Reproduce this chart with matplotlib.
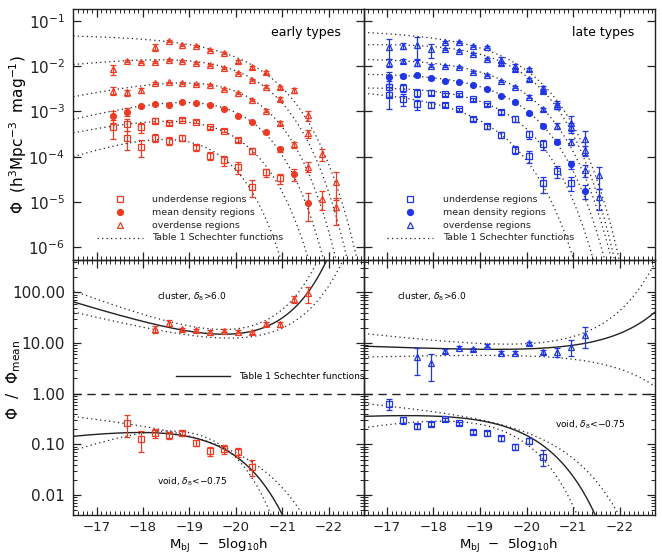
import numpy as np
import matplotlib
matplotlib.use('Agg')
from matplotlib import pyplot as plt
from matplotlib import ticker

# magnitude bins (M_bJ - 5log10 h)
mag_bins = [-17.05, -17.35, -17.65, -17.95, -18.25, -18.55, -18.85, -19.15, -19.45,
            -19.75, -20.05, -20.35, -20.65, -20.95, -21.25, -21.55, -21.85, -22.15]

nan = np.nan

# early types: log10 Phi and fractional errors
early_A = [-1.588, -1.456, -1.537, -1.566, -1.654, -1.721, -1.897, -2.029, -2.140, -2.471, -2.529, -3.081, -3.949, -4.551]
early_A_err = [0.17, 0.05, 0.05, 0.05, 0.05, 0.05, 0.06, 0.07, 0.08, 0.10, 0.12, 0.25, 0.3, 0.6]
early_B = [-2.066, -1.890, -1.919, -1.904, -1.860, -1.882, -1.934, -1.971, -2.051, -2.162, -2.309, -2.456, -2.728, nan, -3.485, nan, -5.118]
early_B_err = [0.25, 0.06, 0.05, 0.05, 0.04, 0.04, 0.04, 0.04, 0.05, 0.05, 0.06, 0.07, 0.10, nan, 0.2, nan, 0.6]
early_C = [-2.544, -2.581, -2.529, -2.375, -2.360, -2.375, -2.404, -2.419, -2.507, -2.603, -2.750, -2.985, -3.250, -3.728, -4.221, -4.926]
early_C_err = [0.2, 0.15, 0.12, 0.05, 0.04, 0.04, 0.04, 0.04, 0.05, 0.05, 0.06, 0.08, 0.1, 0.15, 0.25, 0.45]
early_D = [-3.096, -3.007, -2.890, -2.838, -2.860, -2.801, -2.824, -2.860, -2.949, -3.096, -3.228, -3.463, -3.838, -4.390, -5.015]
early_D_err = [0.3, 0.2, 0.08, 0.05, 0.04, 0.04, 0.04, 0.04, 0.05, 0.05, 0.06, 0.08, 0.12, 0.3, 0.6]
early_E = [-3.353, -3.279, -3.353, -3.206, -3.265, -3.184, -3.228, -3.353, -3.426, -3.632, -3.868, -4.346, -4.478]
early_E_err = [0.45, 0.3, 0.25, 0.12, 0.1, 0.08, 0.07, 0.08, 0.08, 0.1, 0.15, 0.2, 0.25]
early_F = [-3.596, -3.779, -3.581, -3.654, -3.581, -3.794, -3.985, -4.074, -4.235, -4.662]
early_F_err = [0.45, 0.4, 0.2, 0.2, 0.15, 0.15, 0.2, 0.25, 0.3, 0.4]

# late types
late_A = [-1.478, -1.463, -1.551, -1.588, -1.868, -2.000, -2.066, -2.493, -2.846, -3.250, -3.618, -4.404]
late_A_err = [0.05, 0.05, 0.05, 0.05, 0.15, 0.12, 0.08, 0.15, 0.2, 0.4, 0.55, 0.5]
late_B = [-1.574, -1.559, -1.537, -1.632, -1.625, -1.662, -1.743, -1.846, -1.941, -2.074, -2.294, -2.544, -2.882, -3.338, -3.853, -4.882]
late_B_err = [0.45, 0.15, 0.5, 0.35, 0.06, 0.05, 0.05, 0.05, 0.06, 0.08, 0.08, 0.12, 0.15, 0.2, 0.25, 0.5]
late_C = [-1.926, -1.890, -1.926, -1.993, -1.993, -2.015, -2.125, -2.199, -2.324, -2.456, -2.676, -2.956, -3.324, -3.669, -4.294]
late_C_err = [0.2, 0.1, 0.15, 0.08, 0.05, 0.05, 0.05, 0.05, 0.06, 0.06, 0.08, 0.1, 0.15, 0.15, 0.3]
late_D = [-2.235, -2.213, -2.199, -2.272, -2.331, -2.360, -2.419, -2.515, -2.654, -2.801, -3.044, -3.324, -3.669, -4.169, -4.750]
late_D_err = [0.3, 0.1, 0.08, 0.06, 0.05, 0.05, 0.05, 0.05, 0.06, 0.07, 0.08, 0.1, 0.12, 0.2, 0.35]
late_E = [-2.471, -2.478, -2.588, -2.588, -2.625, -2.625, -2.728, -2.846, -3.007, -3.169, -3.507, -3.721, -4.309, -4.574]
late_E_err = [0.4, 0.2, 0.2, 0.12, 0.1, 0.08, 0.08, 0.08, 0.1, 0.15, 0.2, 0.25, 0.3, 0.35]
late_F = [-2.640, -2.728, -2.846, -2.860, -2.860, -2.956, -3.169, -3.324, -3.522, -3.853, -3.985, -4.588]
late_F_err = [0.5, 0.3, 0.25, 0.15, 0.1, 0.1, 0.1, 0.12, 0.15, 0.2, 0.3, 0.4]

# Phi / Phi_mean (log10)
early_cluster = [1.276, 1.401, 1.270, 1.257, 1.224, 1.243, 1.224, 1.211, 1.375, 1.368, 1.868, 1.980]
early_cluster_err = [0.15, 0.12, 0.08, 0.07, 0.07, 0.07, 0.07, 0.08, 0.1, 0.12, 0.15, 0.35]
early_void = [-0.586, -0.895, -0.770, -0.816, -0.783, -0.967, -1.132, -1.099, -1.145, -1.441]
early_void_err = [0.45, 0.45, 0.2, 0.15, 0.12, 0.15, 0.2, 0.2, 0.2, 0.35]
late_cluster = [0.717, 0.599, 0.849, 0.908, 0.875, 0.947, 0.809, 0.809, 0.993, 0.829, 0.829, 0.928, 1.158]
late_cluster_err = [0.55, 0.55, 0.1, 0.06, 0.06, 0.06, 0.07, 0.07, 0.08, 0.1, 0.2, 0.35, 0.45]
late_void = [-0.204, -0.520, -0.638, -0.599, -0.507, -0.586, -0.750, -0.783, -0.882, -1.046, -0.928, -1.243]
late_void_err = [0.25, 0.15, 0.12, 0.1, 0.08, 0.08, 0.08, 0.1, 0.12, 0.15, 0.15, 0.35]

# Schechter parameters (phi*, M*, alpha)
early_sch = [(0.04693, -19.985, -1.032), (0.02814, -19.751, -0.725), (0.01102, -19.537, -0.459),
             (0.004325, -19.338, -0.345), (0.001594, -19.159, -0.434), (0.000703, -18.573, -0.099)]
late_sch = [(0.05482, -19.359, -1.063), (0.04536, -19.236, -0.894), (0.01744, -19.287, -0.977),
            (0.008813, -19.207, -0.948), (0.004832, -19.023, -0.911), (0.002495, -18.736, -1.105)]
early_mean_sch = early_sch[3]
late_mean_sch = late_sch[3]
# cluster / void: best fit, upper, lower
early_cluster_sch = [(0.03913, -20.088, -1.068), (0.03791, -20.343, -1.211), (0.04209, -19.802, -0.903)]
early_void_sch = [(0.0007305, -18.560, -0.055), (0.0007083, -18.907, -0.592), (0.0007506, -18.250, 0.502)]
late_cluster_sch = [(0.06113, -19.295, -1.034), (0.06844, -19.420, -1.202), (0.05328, -19.141, -0.894)]
late_void_sch = [(0.00412, -18.677, -0.827), (0.003507, -18.915, -1.169), (0.003983, -18.450, -0.556)]

RED = '#ee3b24'
BLUE = '#2036e6'
INK = '#222222'


def schechter(M, p):
    phis, Ms, a = p
    x = 10 ** (0.4 * (Ms - M))
    return 0.4 * np.log(10) * phis * x ** (a + 1) * np.exp(-x)


def draw_points(ax, start, logv, err, marker, color, filled):
    M = np.array(mag_bins[start:start + len(logv)])
    v = 10 ** np.array(logv)
    e = v * np.array(err)
    lo = np.minimum(e, v * 0.7)
    ax.errorbar(M, v, yerr=[lo, e], fmt='none', ecolor=color, elinewidth=0.9,
                capsize=2, capthick=0.9)
    ax.plot(M, v, linestyle='none', marker=marker, ms=5 if marker != 'o' else 4.2,
            mec=color, mfc=color if filled else 'none', mew=0.9)


fig = plt.figure(figsize=(6.62, 5.56), dpi=100)
W, H = 662, 556
x0, xm, x1 = 73.3, 363.6, 654.5
ytop, ymid, ybot = 9, 260, 515

ax_el = fig.add_axes([x0 / W, 1 - ymid / H, (xm - x0) / W, (ymid - ytop) / H])
ax_ll = fig.add_axes([xm / W, 1 - ymid / H, (x1 - xm) / W, (ymid - ytop) / H])
ax_er = fig.add_axes([x0 / W, 1 - ybot / H, (xm - x0) / W, (ybot - ymid) / H])
ax_lr = fig.add_axes([xm / W, 1 - ybot / H, (x1 - xm) / W, (ybot - ymid) / H])
for ax in (ax_el, ax_ll, ax_er, ax_lr):
    ax.patch.set_alpha(0)

Mgrid = np.linspace(-16.5, -22.75, 500)
dot = (0, (1, 2.6))

rows_early = [(4, early_A, early_A_err, '^', False), (1, early_B, early_B_err, '^', False),
              (1, early_C, early_C_err, '^', False), (1, early_D, early_D_err, 'o', True),
              (1, early_E, early_E_err, 's', False), (2, early_F, early_F_err, 's', False)]
rows_late = [(4, late_A, late_A_err, '^', False), (0, late_B, late_B_err, '^', False),
             (0, late_C, late_C_err, '^', False), (0, late_D, late_D_err, 'o', True),
             (0, late_E, late_E_err, 's', False), (0, late_F, late_F_err, 's', False)]

for ax, rows, sch, col in [(ax_el, rows_early, early_sch, RED), (ax_ll, rows_late, late_sch, BLUE)]:
    for p in sch:
        ax.plot(Mgrid, schechter(Mgrid, p), color=INK, lw=0.9, linestyle=dot)
    for start, logv, err, mk, filled in rows:
        draw_points(ax, start, logv, err, mk, col, filled)
    ax.set_yscale('log')
    ax.set_ylim(10 ** -6.28, 10 ** -0.74)
    ax.yaxis.set_minor_locator(ticker.NullLocator())
    # legend
    ax.plot([0.161], [0.243], 's', mec=col, mfc='none', ms=5, mew=0.9, transform=ax.transAxes)
    ax.plot([0.161], [0.191], 'o', mec=col, mfc=col, ms=4.2, transform=ax.transAxes)
    ax.plot([0.161], [0.139], '^', mec=col, mfc='none', ms=5, mew=0.9, transform=ax.transAxes)
    ax.plot([0.082, 0.24], [0.088, 0.088], color=INK, lw=0.9, linestyle=dot, transform=ax.transAxes)
    for yy, t in zip([0.243, 0.191, 0.139, 0.088],
                     ['underdense regions', 'mean density regions', 'overdense regions',
                      'Table 1 Schechter functions']):
        ax.text(0.272, yy, t, transform=ax.transAxes, fontsize=6.8, va='center', color=INK)

ax_el.text(0.92, 0.905, 'early types', transform=ax_el.transAxes, ha='right', va='center', fontsize=9)
ax_ll.text(0.93, 0.905, 'late types', transform=ax_ll.transAxes, ha='right', va='center', fontsize=9)

for ax, cl, cl_err, vo, vo_err, cl_sch, vo_sch, mean, col, cstart, vstart in [
        (ax_er, early_cluster, early_cluster_err, early_void, early_void_err,
         early_cluster_sch, early_void_sch, early_mean_sch, RED, 4, 2),
        (ax_lr, late_cluster, late_cluster_err, late_void, late_void_err,
         late_cluster_sch, late_void_sch, late_mean_sch, BLUE, 2, 0)]:
    base = schechter(Mgrid, mean)
    for sch in (cl_sch, vo_sch):
        ax.plot(Mgrid, schechter(Mgrid, sch[0]) / base, color=INK, lw=1.0)
        for p in sch[1:]:
            ax.plot(Mgrid, schechter(Mgrid, p) / base, color=INK, lw=0.9, linestyle=dot)
    ax.axhline(1.0, color=INK, lw=1.0, linestyle=(0, (6, 4)))
    draw_points(ax, cstart, cl, cl_err, '^', col, False)
    draw_points(ax, vstart, vo, vo_err, 's', col, False)
    ax.set_yscale('log')
    ax.set_ylim(10 ** -2.395, 10 ** 2.64)
    ax.yaxis.set_major_locator(ticker.FixedLocator([0.01, 0.1, 1, 10, 100]))
    ax.yaxis.set_minor_locator(ticker.LogLocator(base=10, subs=np.arange(2, 10), numticks=20))
    ax.yaxis.set_minor_formatter(ticker.NullFormatter())

ax_er.yaxis.set_major_formatter(ticker.FuncFormatter(lambda v, pos: f'{v:.2f}'))
ax_er.text(0.288, 0.855, r'cluster, $\delta_8$>6.0', transform=ax_er.transAxes, fontsize=6.5, va='center')
ax_er.text(0.288, 0.129, r'void, $\delta_8$<$-$0.75', transform=ax_er.transAxes, fontsize=6.5, va='center')
ax_er.plot([0.353, 0.54], [0.545, 0.545], color=INK, lw=1.0, transform=ax_er.transAxes)
ax_er.text(0.571, 0.545, 'Table 1 Schechter functions', transform=ax_er.transAxes, fontsize=6.5,
           va='center', clip_on=False)
ax_lr.text(0.116, 0.855, r'cluster, $\delta_8$>6.0', transform=ax_lr.transAxes, fontsize=6.5, va='center')
ax_lr.text(0.659, 0.353, r'void, $\delta_8$<$-$0.75', transform=ax_lr.transAxes, fontsize=6.5, va='center')

for ax in (ax_el, ax_ll, ax_er, ax_lr):
    ax.set_xlim(-16.5, -22.75)
    ax.xaxis.set_major_locator(ticker.MultipleLocator(1))
    ax.xaxis.set_minor_locator(ticker.MultipleLocator(0.1))
    ax.tick_params(which='both', direction='in', top=True, right=True, colors=INK)
    ax.tick_params(which='major', length=6, width=0.9)
    ax.tick_params(which='minor', length=3, width=0.7)
    ax.tick_params(axis='x', which='major', labelsize=9.5, pad=4)
    ax.tick_params(axis='y', which='major', labelsize=11, pad=6)
    for s in ax.spines.values():
        s.set_linewidth(1.0)
        s.set_color(INK)

for ax in (ax_el, ax_ll):
    ax.tick_params(axis='x', labelbottom=False)
for ax in (ax_ll, ax_lr):
    ax.tick_params(axis='y', labelleft=False)

fig.text(18 / W, 1 - 135 / H, r'$\Phi$  (h$^3$Mpc$^{-3}$  mag$^{-1}$)', rotation=90,
         ha='center', va='center', fontsize=11)
fig.text(14 / W, 1 - 380 / H, r'$\Phi$  /  $\Phi_{\rm mean}$', rotation=90,
         ha='center', va='center', fontsize=11)
fig.text(218 / W, 1 - 555 / H, r'M$_{\rm bJ}$  $-$  5log$_{10}$h', ha='center', va='bottom', fontsize=9.5)
fig.text(508 / W, 1 - 555 / H, r'M$_{\rm bJ}$  $-$  5log$_{10}$h', ha='center', va='bottom', fontsize=9.5)

fig.savefig('out.png', dpi=100)
